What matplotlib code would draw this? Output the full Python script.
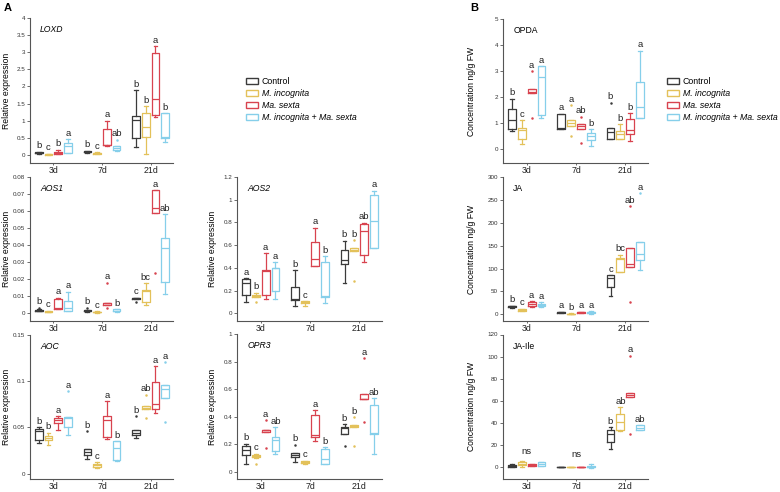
import matplotlib
matplotlib.use('Agg')
import matplotlib.pyplot as plt
from matplotlib.patches import Patch
from matplotlib.ticker import MultipleLocator, FormatStrFormatter

plt.rcParams['font.family'] = ['Liberation Sans', 'DejaVu Sans']

days = ['3d', '7d', '21d']
treatments = ['Control', 'M. incognita', 'Ma. sexta', 'M. incognita + Ma. sexta']
colors = ['#3b3b3b', '#e3c15a', '#d8434f', '#86cfea']

# box stats per treatment, per day: (whislo, q1, med, q3, whishi)
loxd_box = [
    [(0.04, 0.06, 0.07, 0.08, 0.10), (0.06, 0.08, 0.10, 0.12, 0.13), (0.22, 0.49, 1.02, 1.15, 1.90)],
    [(0.00, 0.01, 0.02, 0.03, 0.04), (0.03, 0.04, 0.05, 0.07, 0.08), (0.03, 0.52, 0.81, 1.22, 1.43)],
    [(0.02, 0.04, 0.06, 0.10, 0.15), (0.25, 0.28, 0.30, 0.75, 1.00), (1.10, 1.17, 1.63, 2.98, 3.17)],
    [(0.06, 0.07, 0.26, 0.34, 0.46), (0.13, 0.15, 0.20, 0.25, 0.27), (0.39, 0.49, 0.53, 1.22, 1.22)],
]
loxd_fliers = [[[], [], []], [[], [], []], [[], [], []], [[], [0.45], []]]
loxd_letters = [['b', 'b', 'b'], ['c', 'c', 'b'], ['b', 'a', 'a'], ['a', 'ab', 'b']]

aos1_box = [
    [(0.0008, 0.0010, 0.0012, 0.0015, 0.0020), (0.0007, 0.0008, 0.0010, 0.0013, 0.0015), (0.0078, 0.0080, 0.0085, 0.0089, 0.0089)],
    [(0.0002, 0.0003, 0.0006, 0.0010, 0.0012), (0.0001, 0.0002, 0.0004, 0.0006, 0.0008), (0.0045, 0.0061, 0.0128, 0.0134, 0.0173)],
    [(0.0020, 0.0022, 0.0030, 0.0079, 0.0089), (0.0045, 0.0045, 0.0055, 0.0060, 0.0060), (0.0587, 0.0587, 0.0620, 0.0724, 0.0724)],
    [(0.0012, 0.0012, 0.0026, 0.0069, 0.0124), (0.0006, 0.0009, 0.0012, 0.0020, 0.0022), (0.0108, 0.0179, 0.0384, 0.0443, 0.0580)],
]
aos1_fliers = [[[0.003], [0.003], [0.0065]], [[], [], []], [[], [0.0177, 0.003], [0.0232]], [[], [], []]]
aos1_letters = [['b', 'b', 'c'], ['c', 'c', 'bc'], ['a', 'a', 'a'], ['a', 'b', 'ab']]

aos2_box = [
    [(0.10, 0.162, 0.27, 0.30, 0.31), (0.064, 0.116, 0.13, 0.232, 0.38), (0.27, 0.435, 0.472, 0.557, 0.638)],
    [(0.14, 0.145, 0.155, 0.165, 0.18), (0.064, 0.087, 0.096, 0.107, 0.107), (0.545, 0.545, 0.556, 0.571, 0.571)],
    [(0.13, 0.165, 0.37, 0.377, 0.53), (0.42, 0.42, 0.478, 0.632, 0.754), (0.45, 0.513, 0.725, 0.788, 0.797)],
    [(0.13, 0.197, 0.397, 0.40, 0.45), (0.093, 0.145, 0.15, 0.449, 0.504), (0.574, 0.574, 0.81, 1.043, 1.08)],
]
aos2_fliers = [[[], [], []], [[0.10], [], [0.643, 0.28]], [[], [], []], [[], [], []]]
aos2_letters = [['a', 'b', 'b'], ['b', 'c', 'b'], ['a', 'a', 'ab'], ['a', 'b', 'a']]

aoc_box = [
    [(0.0335, 0.0367, 0.0457, 0.0478, 0.0504), (0.0155, 0.0205, 0.0235, 0.0263, 0.0263), (0.0385, 0.0414, 0.0439, 0.0468, 0.0468)],
    [(0.0306, 0.0360, 0.0385, 0.0406, 0.0442), (0.0061, 0.0072, 0.0090, 0.0108, 0.0126), (0.0694, 0.0694, 0.0712, 0.0730, 0.0730)],
    [(0.0468, 0.0547, 0.0576, 0.0600, 0.0622), (0.0378, 0.0396, 0.0576, 0.0619, 0.0784), (0.0658, 0.0694, 0.0755, 0.0996, 0.1160)],
    [(0.0420, 0.0500, 0.0604, 0.0610, 0.0610), (0.0133, 0.0144, 0.0277, 0.0350, 0.0350), (0.0817, 0.0817, 0.0910, 0.0960, 0.0960)],
]
aoc_fliers = [[[], [0.0457], [0.0622]], [[], [], [0.0853, 0.060]], [[], [], []], [[0.089], [], [0.1205, 0.0558]]]
aoc_letters = [['b', 'b', 'b'], ['b', 'c', 'ab'], ['a', 'a', 'a'], ['a', 'b', 'a']]

opr3_box = [
    [(0.060, 0.120, 0.157, 0.188, 0.205), (0.072, 0.104, 0.120, 0.137, 0.137), (0.277, 0.277, 0.320, 0.325, 0.345)],
    [(0.100, 0.104, 0.113, 0.120, 0.132), (0.060, 0.067, 0.072, 0.077, 0.080), (0.325, 0.325, 0.333, 0.342, 0.342)],
    [(0.290, 0.290, 0.300, 0.306, 0.306), (0.222, 0.253, 0.265, 0.414, 0.446), (0.525, 0.525, 0.530, 0.566, 0.566)],
    [(0.132, 0.152, 0.234, 0.253, 0.325), (0.055, 0.055, 0.096, 0.169, 0.180), (0.132, 0.277, 0.282, 0.482, 0.535)],
]
opr3_fliers = [[[], [0.198], [0.186]], [[0.055], [], [0.398, 0.188]], [[0.373, 0.173], [], [0.824, 0.361]], [[], [], []]]
opr3_letters = [['b', 'b', 'b'], ['c', 'c', 'b'], ['a', 'a', 'a'], ['ab', 'b', 'ab']]

opda_box = [
    [(0.69, 0.756, 1.13, 1.55, 1.94), (0.78, 0.78, 0.81, 1.36, 1.36), (0.40, 0.40, 0.65, 0.82, 0.82)],
    [(0.18, 0.40, 0.72, 0.81, 1.10), (0.88, 0.88, 1.00, 1.13, 1.13), (0.40, 0.40, 0.56, 0.68, 0.95)],
    [(2.17, 2.17, 2.20, 2.29, 2.29), (0.76, 0.76, 0.87, 0.95, 0.95), (0.31, 0.56, 0.72, 1.17, 1.38)],
    [(1.20, 1.32, 2.77, 3.18, 3.18), (0.12, 0.36, 0.50, 0.63, 0.76), (1.18, 1.18, 1.60, 2.59, 3.78)],
]
opda_fliers = [[[], [], [1.78]], [[], [1.68, 0.49], []], [[3.0, 1.19], [1.24, 0.23], []], [[], [], []]]
opda_letters = [['b', 'a', 'b'], ['c', 'a', 'b'], ['a', 'ab', 'b'], ['a', 'b', 'a']]

ja_box = [
    [(13, 15, 17, 18, 19), (2, 3, 4, 5, 6), (41, 60.5, 79, 86, 86)],
    [(7, 8, 9.5, 11, 12), (0, 0.5, 1, 1.5, 2), (93, 93, 120, 122.6, 130)],
    [(15, 17, 22, 26, 28), (2, 3, 4, 5, 6), (104, 104, 110, 144.5, 144.5)],
    [(15, 17, 20, 23, 26), (1, 2, 4, 6, 7), (97, 119, 131, 159, 159)],
]
ja_fliers = [[[], [], []], [[], [], []], [[], [], [235.6, 27.6]], [[], [], [265]]]
ja_letters = [['b', 'a', 'c'], ['c', 'b', 'bc'], ['a', 'a', 'ab'], ['a', 'a', 'a']]

jaile_box = [
    [(0.3, 0.6, 1.2, 2.1, 3.0), (0.1, 0.2, 0.3, 0.5, 0.6), (17, 23, 30, 34, 36.6)],
    [(0.5, 2.1, 3.0, 4.5, 5.7), (0.1, 0.2, 0.3, 0.5, 0.6), (32.7, 33.6, 41, 48.6, 54.6)],
    [(1.2, 1.5, 2.2, 3.0, 3.3), (0.1, 0.2, 0.3, 0.5, 0.6), (63.6, 63.6, 65, 67.5, 67.5)],
    [(1.2, 1.5, 3.0, 4.5, 4.8), (-0.3, 0.0, 0.5, 1.5, 2.7), (34, 34, 36, 38, 38)],
]
jaile_fliers = [[[], [], []], [[], [], []], [[], [], [101, 30.6]], [[], [], []]]
jaile_letters = [['', '', 'b'], ['', '', 'ab'], ['', '', 'a'], ['', '', 'ab']]
jaile_group_letters = ['ns', 'ns', '']

offsets = [-0.3, -0.1, 0.1, 0.3]


def draw_panel(ax, box, fliers, letters, name, ylim, step, fmt, ylabel, italic, group_letters=None):
    for t in range(4):
        c = colors[t]
        stats = []
        for d in range(3):
            lo, q1, med, q3, hi = box[t][d]
            stats.append(dict(whislo=lo, q1=q1, med=med, q3=q3, whishi=hi, fliers=fliers[t][d]))
        pos = [d + offsets[t] for d in range(3)]
        ax.bxp(stats, positions=pos, widths=0.16, showfliers=True, manage_ticks=False,
               boxprops=dict(color=c, linewidth=0.9),
               whiskerprops=dict(color=c, linewidth=0.9),
               capprops=dict(color=c, linewidth=0.9),
               medianprops=dict(color=c, linewidth=0.9),
               flierprops=dict(marker='.', markersize=1.6, markerfacecolor=c, markeredgecolor=c))
        # significance letters above highest point
        for d in range(3):
            if letters[t][d]:
                top = max([box[t][d][4]] + fliers[t][d])
                ax.annotate(letters[t][d], (pos[d], top), xytext=(0, 1), textcoords='offset points',
                            ha='center', va='bottom', fontsize=6.8, color='#222222')
    if group_letters:
        for d in range(3):
            if group_letters[d]:
                top = max(max([box[t][d][4]] + fliers[t][d]) for t in range(4))
                ax.annotate(group_letters[d], (d, top), xytext=(0, 4), textcoords='offset points',
                            ha='center', va='bottom', fontsize=6.8, color='#222222')

    ax.set_xlim(-0.48, 2.46)
    ax.set_ylim(ylim)
    ax.set_xticks(range(3))
    ax.set_xticklabels(days, fontsize=6.3)
    ax.yaxis.set_major_locator(MultipleLocator(step))
    ax.yaxis.set_major_formatter(FormatStrFormatter(fmt))
    ax.tick_params(axis='y', labelsize=4.5, length=2, width=0.6, pad=1.5, colors='#555555', labelcolor='#333333')
    ax.tick_params(axis='x', length=1.5, width=0.6, pad=1, colors='#555555', labelcolor='#222222')
    for s in ['top', 'right']:
        ax.spines[s].set_visible(False)
    for s in ['left', 'bottom']:
        ax.spines[s].set_color('#555555')
        ax.spines[s].set_linewidth(0.8)
    ax.set_ylabel(ylabel, fontsize=6.2)
    ax.text(0.07, 0.92, name, transform=ax.transAxes, fontsize=6.2,
            style='italic' if italic else 'normal', va='center', ha='left')


fig = plt.figure(figsize=(7.8, 4.92), dpi=100)
W, H = 780.0, 492.0


def axes_px(x0, top, w, bottom):
    return fig.add_axes([x0 / W, 1 - bottom / H, w / W, (bottom - top) / H])


ax = axes_px(30, 18, 143, 163)
draw_panel(ax, loxd_box, loxd_fliers, loxd_letters, 'LOXD', (-0.234, 4), 0.5, '%g', 'Relative expression', True)
ax.yaxis.set_label_coords(-0.135, 0.5)

ax = axes_px(30, 177, 143, 321)
draw_panel(ax, aos1_box, aos1_fliers, aos1_letters, 'AOS1', (-0.0049, 0.08), 0.01, '%g', 'Relative expression', True)
ax.yaxis.set_label_coords(-0.135, 0.5)

ax = axes_px(30, 335, 143, 479)
draw_panel(ax, aoc_box, aoc_fliers, aoc_letters, 'AOC', (-0.0059, 0.15), 0.05, '%g', 'Relative expression', True)
ax.yaxis.set_label_coords(-0.135, 0.5)

ax = axes_px(237, 177, 145, 321)
draw_panel(ax, aos2_box, aos2_fliers, aos2_letters, 'AOS2', (-0.068, 1.2), 0.2, '%g', 'Relative expression', True)
ax.yaxis.set_label_coords(-0.135, 0.5)

ax = axes_px(237, 334, 145, 479)
draw_panel(ax, opr3_box, opr3_fliers, opr3_letters, 'OPR3', (-0.052, 1.0), 0.2, '%g', 'Relative expression', True)
ax.yaxis.set_label_coords(-0.135, 0.5)

ax = axes_px(503, 19, 145, 163)
draw_panel(ax, opda_box, opda_fliers, opda_letters, 'OPDA', (-0.54, 5), 1, '%g', 'Concentration ng/g FW', False)
ax.yaxis.set_label_coords(-0.185, 0.5)

ax = axes_px(503, 177, 145, 321)
draw_panel(ax, ja_box, ja_fliers, ja_letters, 'JA', (-14.7, 300), 50, '%g', 'Concentration ng/g FW', False)
ax.yaxis.set_label_coords(-0.185, 0.5)

ax = axes_px(503, 334.5, 145, 479)
draw_panel(ax, jaile_box, jaile_fliers, jaile_letters, 'JA-Ile', (-10.4, 120), 20, '%g', 'Concentration ng/g FW', False,
           group_letters=jaile_group_letters)
ax.yaxis.set_label_coords(-0.185, 0.5)

# legends
handles = [Patch(facecolor='white', edgecolor=c, linewidth=1.0) for c in colors]
for anchor in [(246 / W, 1 - 77 / H), (667 / W, 1 - 77 / H)]:
    leg = fig.legend(handles, treatments, loc='upper left', bbox_to_anchor=anchor, frameon=False,
                     fontsize=6.3, handlelength=1.4, handleheight=0.8, labelspacing=0.35,
                     handletextpad=0.4, borderaxespad=0, borderpad=0)
    for txt in leg.get_texts():
        if txt.get_text() != 'Control':
            txt.set_style('italic')

fig.text(4 / W, 1 - 3 / H, 'A', fontsize=8, fontweight='bold', va='top', ha='left')
fig.text(470 / W, 1 - 3 / H, 'B', fontsize=8, fontweight='bold', va='top', ha='left')

fig.savefig('out.png', dpi=100)
